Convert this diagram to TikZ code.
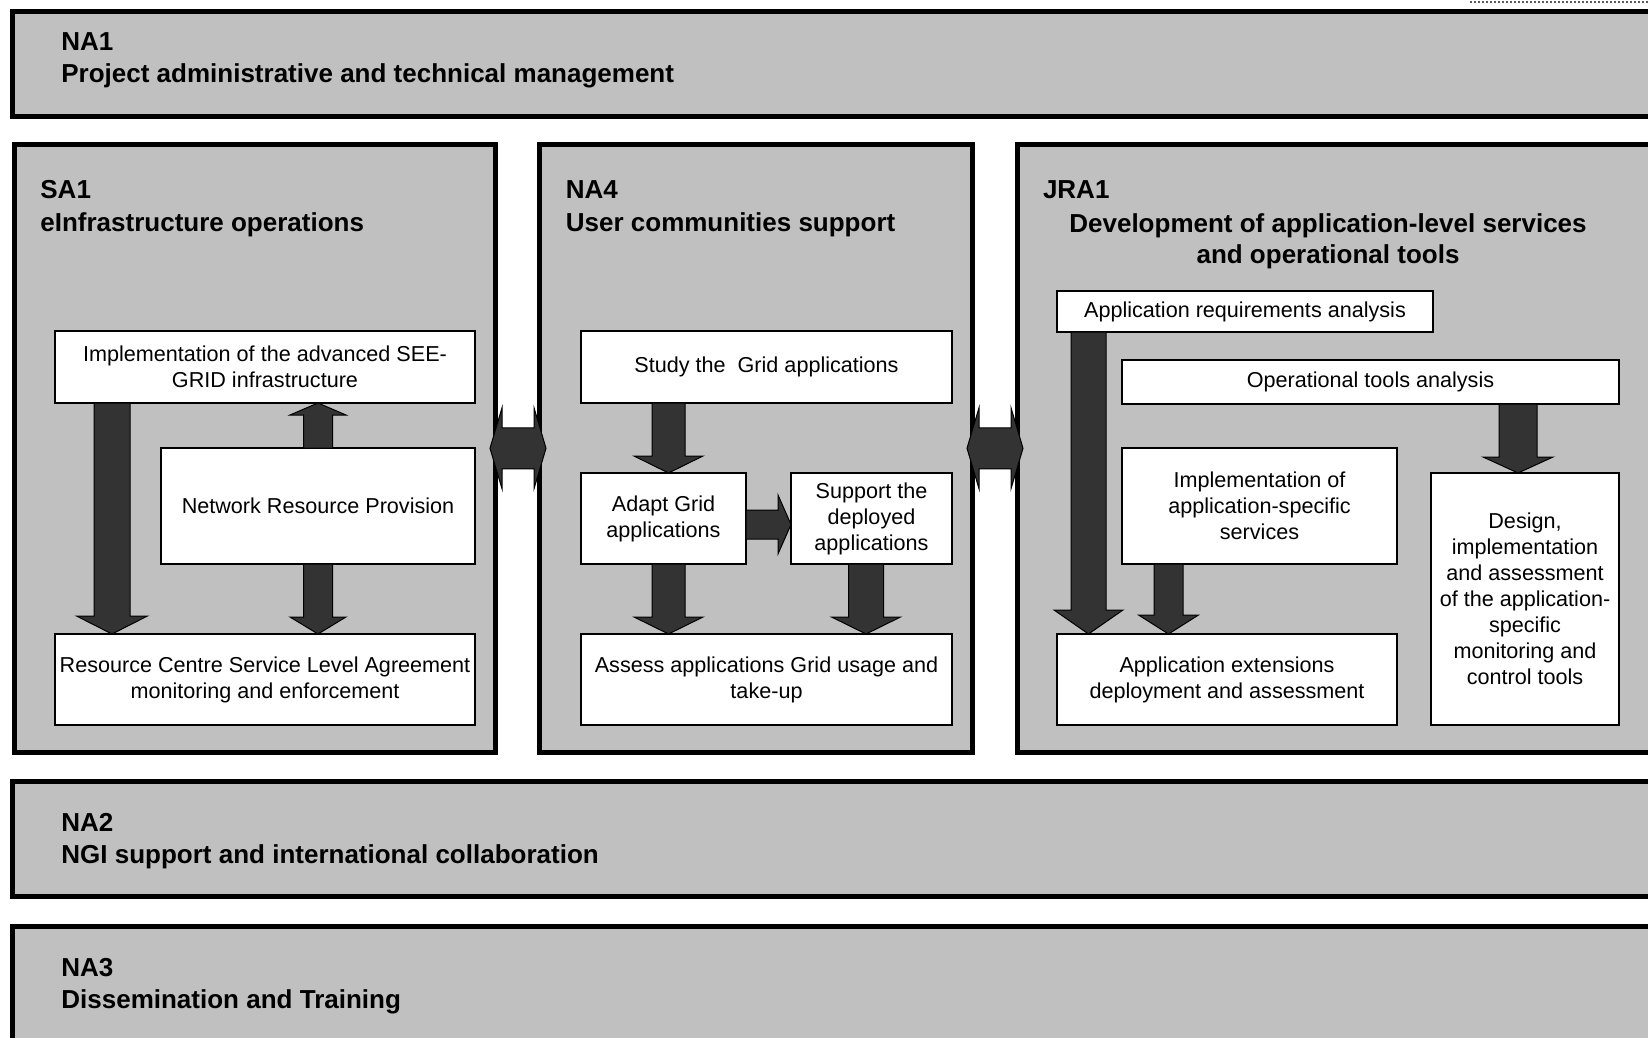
\documentclass[tikz,border=0pt]{standalone}
\usepackage{fontspec}
\setmainfont{Liberation Sans}
\usetikzlibrary{calc}
\definecolor{panelgray}{RGB}{192,192,192}
\definecolor{arrowgray}{RGB}{51,51,51}
\definecolor{dotgray}{RGB}{90,90,90}

% thick block arrow: start, tip, half shaft, half head, head length
\newcommand\blockarrow[5]{%
  \coordinate (arS) at #1;
  \coordinate (arT) at #2;
  \coordinate (arB) at ($(arT)!#5!(arS)$);
  \filldraw[arrowbody] ($(arS)!#3!90:(arT)$) -- ($(arB)!#3!90:(arT)$) -- ($(arB)!#4!90:(arT)$) -- (arT)
    -- ($(arB)!#4!-90:(arT)$) -- ($(arB)!#3!-90:(arT)$) -- ($(arS)!#3!-90:(arT)$) -- cycle;
}
% block arrow with two heads
\newcommand\blockboth[5]{%
  \coordinate (bbA) at #1;
  \coordinate (bbB) at #2;
  \coordinate (bbP) at ($(bbA)!#5!(bbB)$);
  \coordinate (bbQ) at ($(bbB)!#5!(bbA)$);
  \filldraw[arrowbody] (bbA) -- ($(bbP)!#4!90:(bbB)$) -- ($(bbP)!#3!90:(bbB)$) -- ($(bbQ)!#3!-90:(bbA)$)
    -- ($(bbQ)!#4!-90:(bbA)$) -- (bbB) -- ($(bbQ)!#4!90:(bbA)$) -- ($(bbQ)!#3!90:(bbA)$)
    -- ($(bbP)!#3!-90:(bbB)$) -- ($(bbP)!#4!-90:(bbB)$) -- cycle;
}

\tikzset{
  panel/.style={draw=black, fill=panelgray, line width=2.5pt, anchor=north west, outer sep=0pt, inner sep=0pt},
  task/.style={draw=black, fill=white, line width=1.3pt, align=center, inner sep=1pt, outer sep=0pt,
    font=\fontsize{10.8}{13}\selectfont},
  heading/.style={anchor=base west, inner sep=0pt, font=\fontsize{13}{16.3}\selectfont\bfseries},
  arrowbody/.style={draw=black, fill=arrowgray, line width=0.5pt}
}

\begin{document}
\begin{tikzpicture}[x=0.5pt, y=-0.5pt]
\useasboundingbox (0,0) rectangle (1648,1038);
\clip (0,0) rectangle (1648,1038);
\draw[dotgray, line width=1pt, dash pattern=on 1pt off 1pt] (1470,2.5) -- (1648,2.5);

\node[panel, minimum width=834pt, minimum height=52.75pt] (na1) at (12,11.5) {};
\node[panel, minimum width=240.25pt, minimum height=303.75pt] (sa1) at (14.5,144.5) {};
\node[panel, minimum width=216.5pt, minimum height=303.75pt] (na4) at (539.5,144.5) {};
\node[panel, minimum width=331.25pt, minimum height=303.75pt] (jra1) at (1017.5,144.5) {};
\node[panel, minimum width=834pt, minimum height=57.5pt] (na2) at (12,781) {};
\node[panel, minimum width=834pt, minimum height=67pt] (na3) at (12,926) {};

\node[heading] (na1code) at (61,51) {NA1};
\node[heading] (na1name) at (61,83) {Project administrative and technical management};
\node[heading] (sa1code) at (40,198.5) {SA1};
\node[heading] (sa1name) at (40,231) {eInfrastructure operations};
\node[heading] (na4code) at (565.5,198.5) {NA4};
\node[heading] (na4name) at (565.5,231) {User communities support};
\node[heading] (jra1code) at (1042.6,198.5) {JRA1};
\node[heading, anchor=base] (jra1name) at (1328,232) {Development of application-level services};
\node[heading, anchor=base] (jra1more) at (1328,263.5) {and operational tools};
\node[heading] (na2code) at (61,831) {NA2};
\node[heading] (na2name) at (61,863.6) {NGI support and international collaboration};
\node[heading] (na3code) at (61,976) {NA3};
\node[heading] (na3name) at (61,1008.6) {Dissemination and Training};

% SA1
\node[task, minimum width=210pt, minimum height=36pt] (impl) at (265,367) {Implementation of the advanced SEE-\\GRID infrastructure};
\node[task, minimum width=157pt, minimum height=58pt] (net) at (318,506) {Network Resource Provision};
\node[task, minimum width=210pt, minimum height=45.5pt] (res) at (265,679.5) {Resource Centre Service Level Agreement\\monitoring and enforcement};
\blockarrow{(impl.south -| 112,0)}{(res.north -| 112,0)}{9pt}{17.75pt}{9pt}
\blockarrow{(net.north)}{(impl.south -| net.north)}{7.25pt}{14pt}{6pt}
\blockarrow{(net.south)}{(res.north -| net.south)}{7.25pt}{14pt}{8.5pt}

% NA4
\node[task, minimum width=185.5pt, minimum height=36pt] (study) at (766.5,367) {Study the\ \ Grid applications};
\node[task, minimum width=82.5pt, minimum height=45.5pt] (adapt) at (663.5,518.5) {Adapt Grid\\applications};
\node[task, minimum width=80.5pt, minimum height=45.5pt] (support) at (871.5,518.5) {Support the\\deployed\\applications};
\node[task, minimum width=185.5pt, minimum height=45.5pt] (assess) at (766.5,679.5) {Assess applications Grid usage and\\take-up};
\blockarrow{(study.south -| 668.5,0)}{(adapt.north -| 668.5,0)}{8.25pt}{17.25pt}{8.5pt}
\blockarrow{(adapt.east |- 0,524.5)}{(support.west |- 0,524.5)}{7.25pt}{14.75pt}{6.5pt}
\blockarrow{(adapt.south -| 668.5,0)}{(assess.north -| 668.5,0)}{8.25pt}{17.25pt}{8.5pt}
\blockarrow{(support.south -| 866,0)}{(assess.north -| 866,0)}{8.75pt}{17.25pt}{8.5pt}

% JRA1
\node[task, minimum width=188pt, minimum height=20.5pt] (appreq) at (1245,311.5) {Application requirements analysis};
\node[task, minimum width=248.5pt, minimum height=22pt] (optools) at (1370.5,382) {Operational tools analysis};
\node[task, minimum width=137.5pt, minimum height=58pt] (implapp) at (1259.5,506) {Implementation of\\application-specific\\services};
\node[task, minimum width=170pt, minimum height=45.5pt] (appext) at (1227,679.5) {Application extensions\\deployment and assessment};
\node[task, minimum width=94pt, minimum height=126pt] (design) at (1525,599) {Design,\\implementation\\and assessment\\of the application-\\specific\\monitoring and\\control tools};
\blockarrow{(appreq.south -| 1088.5,0)}{(appext.north -| 1088.5,0)}{8.75pt}{17.25pt}{12pt}
\blockarrow{(implapp.south -| 1168.5,0)}{(appext.north -| 1168.5,0)}{7.25pt}{15pt}{9.5pt}
\blockarrow{(optools.south -| 1518,0)}{(design.north -| 1518,0)}{9.5pt}{17.5pt}{8pt}

\blockboth{($(sa1.east)+(-5,0)$)}{($(na4.west)+(6.5,0)$)}{10.25pt}{20.25pt}{6pt}
\blockboth{($(na4.east)+(-5.5,0)$)}{($(jra1.west)+(5.5,0)$)}{10.25pt}{20.25pt}{6pt}
\end{tikzpicture}
\end{document}
